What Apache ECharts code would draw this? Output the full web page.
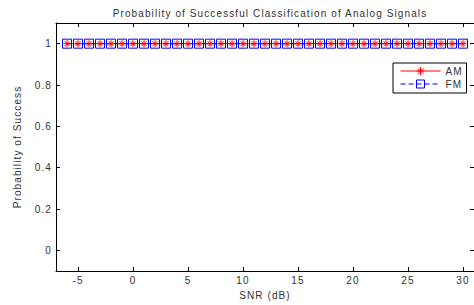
<!DOCTYPE html>
<html>
<head>
<meta charset="utf-8">
<script src="https://cdn.jsdelivr.net/npm/echarts@6/dist/echarts.min.js"></script>
<style>
  html, body { margin: 0; padding: 0; background: #fff; }
  #chart { width: 474px; height: 305px; }
  /* matlab prints its text loosely spaced */
  #chart svg text { letter-spacing: 1.1px; }
</style>
</head>
<body>
<div id="chart"></div>
<script>
// SNR values (dB) and the classification success rates
const snrList = [-6, -5, -4, -3, -2, -1, 0, 1, 2, 3, 4, 5, 6, 7, 8, 9, 10, 11, 12,
  13, 14, 15, 16, 17, 18, 19, 20, 21, 22, 23, 24, 25, 26, 27, 28, 29, 30];
const amSuccess = [1, 1, 1, 1, 1, 1, 1, 1, 1, 1, 1, 1, 1, 1, 1, 1, 1, 1, 1,
  1, 1, 1, 1, 1, 1, 1, 1, 1, 1, 1, 1, 1, 1, 1, 1, 1, 1];
const fmSuccess = [1, 1, 1, 1, 1, 1, 1, 1, 1, 1, 1, 1, 1, 1, 1, 1, 1, 1, 1,
  1, 1, 1, 1, 1, 1, 1, 1, 1, 1, 1, 1, 1, 1, 1, 1, 1, 1];
const xTicks = [-5, 0, 5, 10, 15, 20, 25, 30];
const yTicks = [0, 0.2, 0.4, 0.6, 0.8, 1];

const font = 'Liberation Sans';
const textColor = '#333';
const asterisk = 'path://M0,-5L0,5M-5,0L5,0M-3.5,-3.5L3.5,3.5M-3.5,3.5L3.5,-3.5';

const chart = echarts.init(document.getElementById('chart'), null, { renderer: 'svg' });

function toPairs(ys) {
  return snrList.map((x, i) => [x, ys[i]]);
}

// axes with inward ticks on all four sides, like a boxed matlab plot
function xAxisOpt(pos, showLabel) {
  return {
    type: 'value',
    position: pos,
    min: -7,
    max: 31,
    axisLine: { onZero: false, lineStyle: { color: '#000', width: 1 } },
    axisTick: { inside: true, length: 4, customValues: xTicks, lineStyle: { color: '#000' } },
    axisLabel: {
      show: showLabel, customValues: xTicks, margin: 4,
      color: textColor, fontFamily: font, fontSize: 10
    },
    splitLine: { show: false }
  };
}
function yAxisOpt(pos, showLabel) {
  return {
    type: 'value',
    position: pos,
    min: -0.1,
    max: 1.1,
    axisLine: { onZero: false, lineStyle: { color: '#000', width: 1 } },
    axisTick: { inside: true, length: 4, customValues: yTicks, lineStyle: { color: '#000' } },
    axisLabel: {
      show: showLabel, customValues: yTicks, margin: 4,
      color: textColor, fontFamily: font, fontSize: 10
    },
    splitLine: { show: false }
  };
}

const xBottom = xAxisOpt('bottom', true);
xBottom.name = 'SNR (dB)';
xBottom.nameLocation = 'middle';
xBottom.nameGap = 19;
xBottom.nameTextStyle = { color: textColor, fontFamily: font, fontSize: 10 };

const yLeft = yAxisOpt('left', true);
yLeft.name = 'Probability of Success';
yLeft.nameLocation = 'middle';
yLeft.nameGap = 34;
yLeft.nameTextStyle = { color: textColor, fontFamily: font, fontSize: 10 };

chart.setOption({
  animation: false,
  backgroundColor: '#fff',
  title: {
    text: 'Probability of Successful Classification of Analog Signals',
    left: 265,
    textAlign: 'center',
    top: 3,
    textStyle: { color: textColor, fontFamily: font, fontSize: 10, fontWeight: 'normal' }
  },
  grid: { left: 56, top: 23, width: 421, height: 254 },
  xAxis: [xBottom, xAxisOpt('top', false)],
  yAxis: [yLeft, yAxisOpt('right', false)],
  legend: {
    left: 393,
    top: 63,
    orient: 'vertical',
    backgroundColor: '#fff',
    borderColor: '#000',
    borderWidth: 1,
    borderRadius: 0,
    padding: [3, 6, 4, 7],
    itemGap: 3,
    itemWidth: 40,
    itemHeight: 10,
    lineStyle: { width: 1 },
    itemStyle: { borderWidth: 1 },
    textStyle: { color: textColor, fontFamily: font, fontSize: 10 },
    data: ['AM', 'FM']
  },
  series: [
    {
      name: 'AM',
      type: 'line',
      data: toPairs(amSuccess),
      symbol: asterisk,
      symbolSize: 7,
      showAllSymbol: true,
      lineStyle: { color: '#ff0000', width: 1 },
      itemStyle: { color: '#ff0000', borderColor: '#ff0000', borderWidth: 1 }
    },
    {
      name: 'FM',
      type: 'line',
      data: toPairs(fmSuccess),
      symbol: 'rect',
      symbolSize: 9,
      showAllSymbol: true,
      lineStyle: { color: '#0000ff', width: 1, type: [5, 3] },
      itemStyle: { color: 'rgba(0,0,0,0)', borderColor: '#0000ff', borderWidth: 1 }
    }
  ]
});
</script>
</body>
</html>
